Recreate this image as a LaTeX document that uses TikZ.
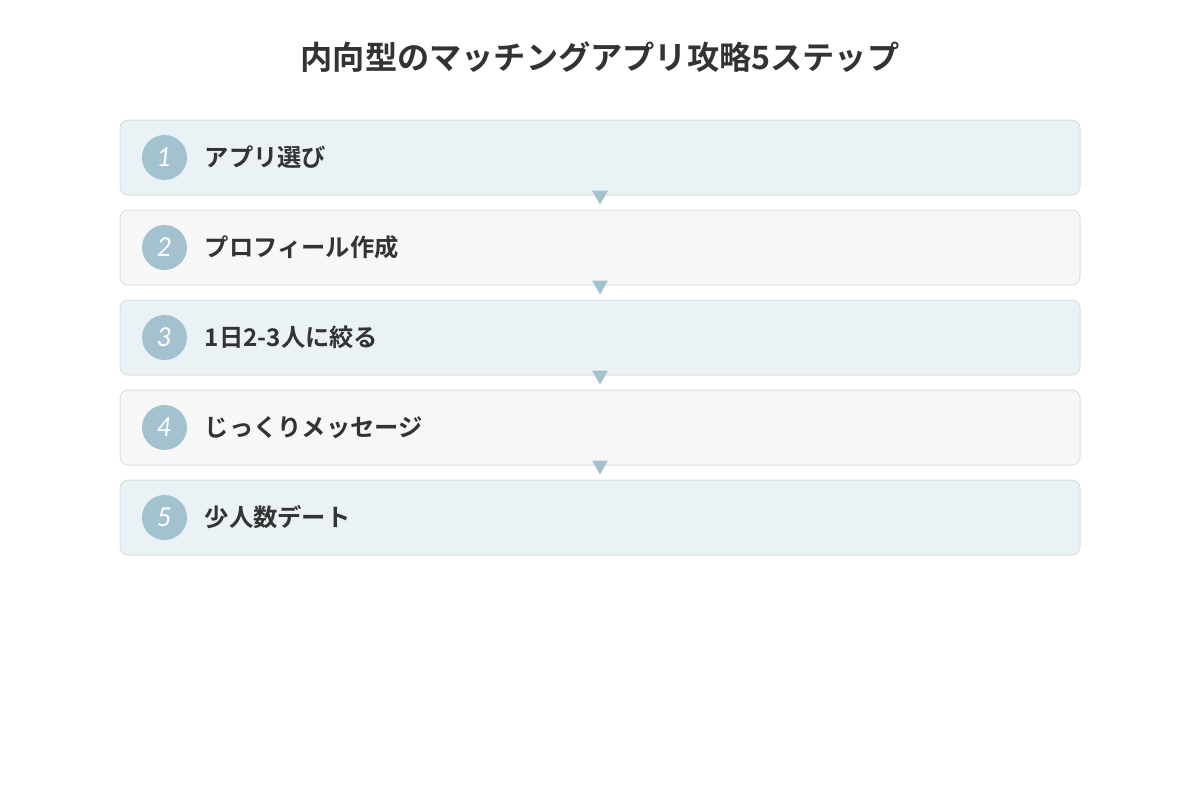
\documentclass[tikz,border=0pt]{standalone}
\usepackage{fontspec}
\setmainfont{Noto Sans CJK JP}[BoldFont={* Bold}]
\newfontfamily\numfont{Lato}
\usetikzlibrary{positioning}

\definecolor{stepblue}{HTML}{EAF2F5}
\definecolor{stepgray}{HTML}{F7F7F7}
\definecolor{stepline}{HTML}{DCDFE1}
\definecolor{badge}{HTML}{A3C1CF}
\definecolor{ink}{HTML}{333333}

\tikzset{
  stepbox/.style={draw=stepline, line width=1pt, rounded corners=8pt, minimum width=960pt, minimum height=75pt, inner sep=0pt},
  badgenum/.style={circle, fill=badge, minimum size=45pt, inner sep=0pt, text=white, font=\numfont\itshape\fontsize{26}{26}\selectfont},
  steptext/.style={anchor=west, text=ink, inner sep=0pt, font=\bfseries\fontsize{24.3}{24.3}\selectfont},
  pointer/.style={fill=badge}
}

\begin{document}
\begin{tikzpicture}[x=1pt,y=-1pt]
\useasboundingbox (0,0) rectangle (1200,800);

\node[text=ink, font=\bfseries\fontsize{32.2}{32.2}\selectfont] (title) at (600,57) {内向型のマッチングアプリ攻略5ステップ};

\node[stepbox, fill=stepblue] (step1) at (600,157.5) {};
\node[stepbox, fill=stepgray] (step2) [below=14pt of step1] {};
\node[stepbox, fill=stepblue] (step3) [below=14pt of step2] {};
\node[stepbox, fill=stepgray] (step4) [below=14pt of step3] {};
\node[stepbox, fill=stepblue] (step5) [below=14pt of step4] {};

\foreach \i/\label in {1/アプリ選び, 2/プロフィール作成, 3/1日2-3人に絞る, 4/じっくりメッセージ, 5/少人数デート}{
  \node[badgenum] (num\i) at ([xshift=45pt]step\i.west) {\i};
  \node[steptext] (text\i) at ([xshift=40pt]num\i.center) {\label};
}

% pointers between the steps
\foreach \i in {1,...,4}{
  \fill[pointer] ([yshift=5pt]step\i.south) -- ++(-8,0) -- ++(8,14) -- ++(8,-14) -- cycle;
}

\end{tikzpicture}
\end{document}
